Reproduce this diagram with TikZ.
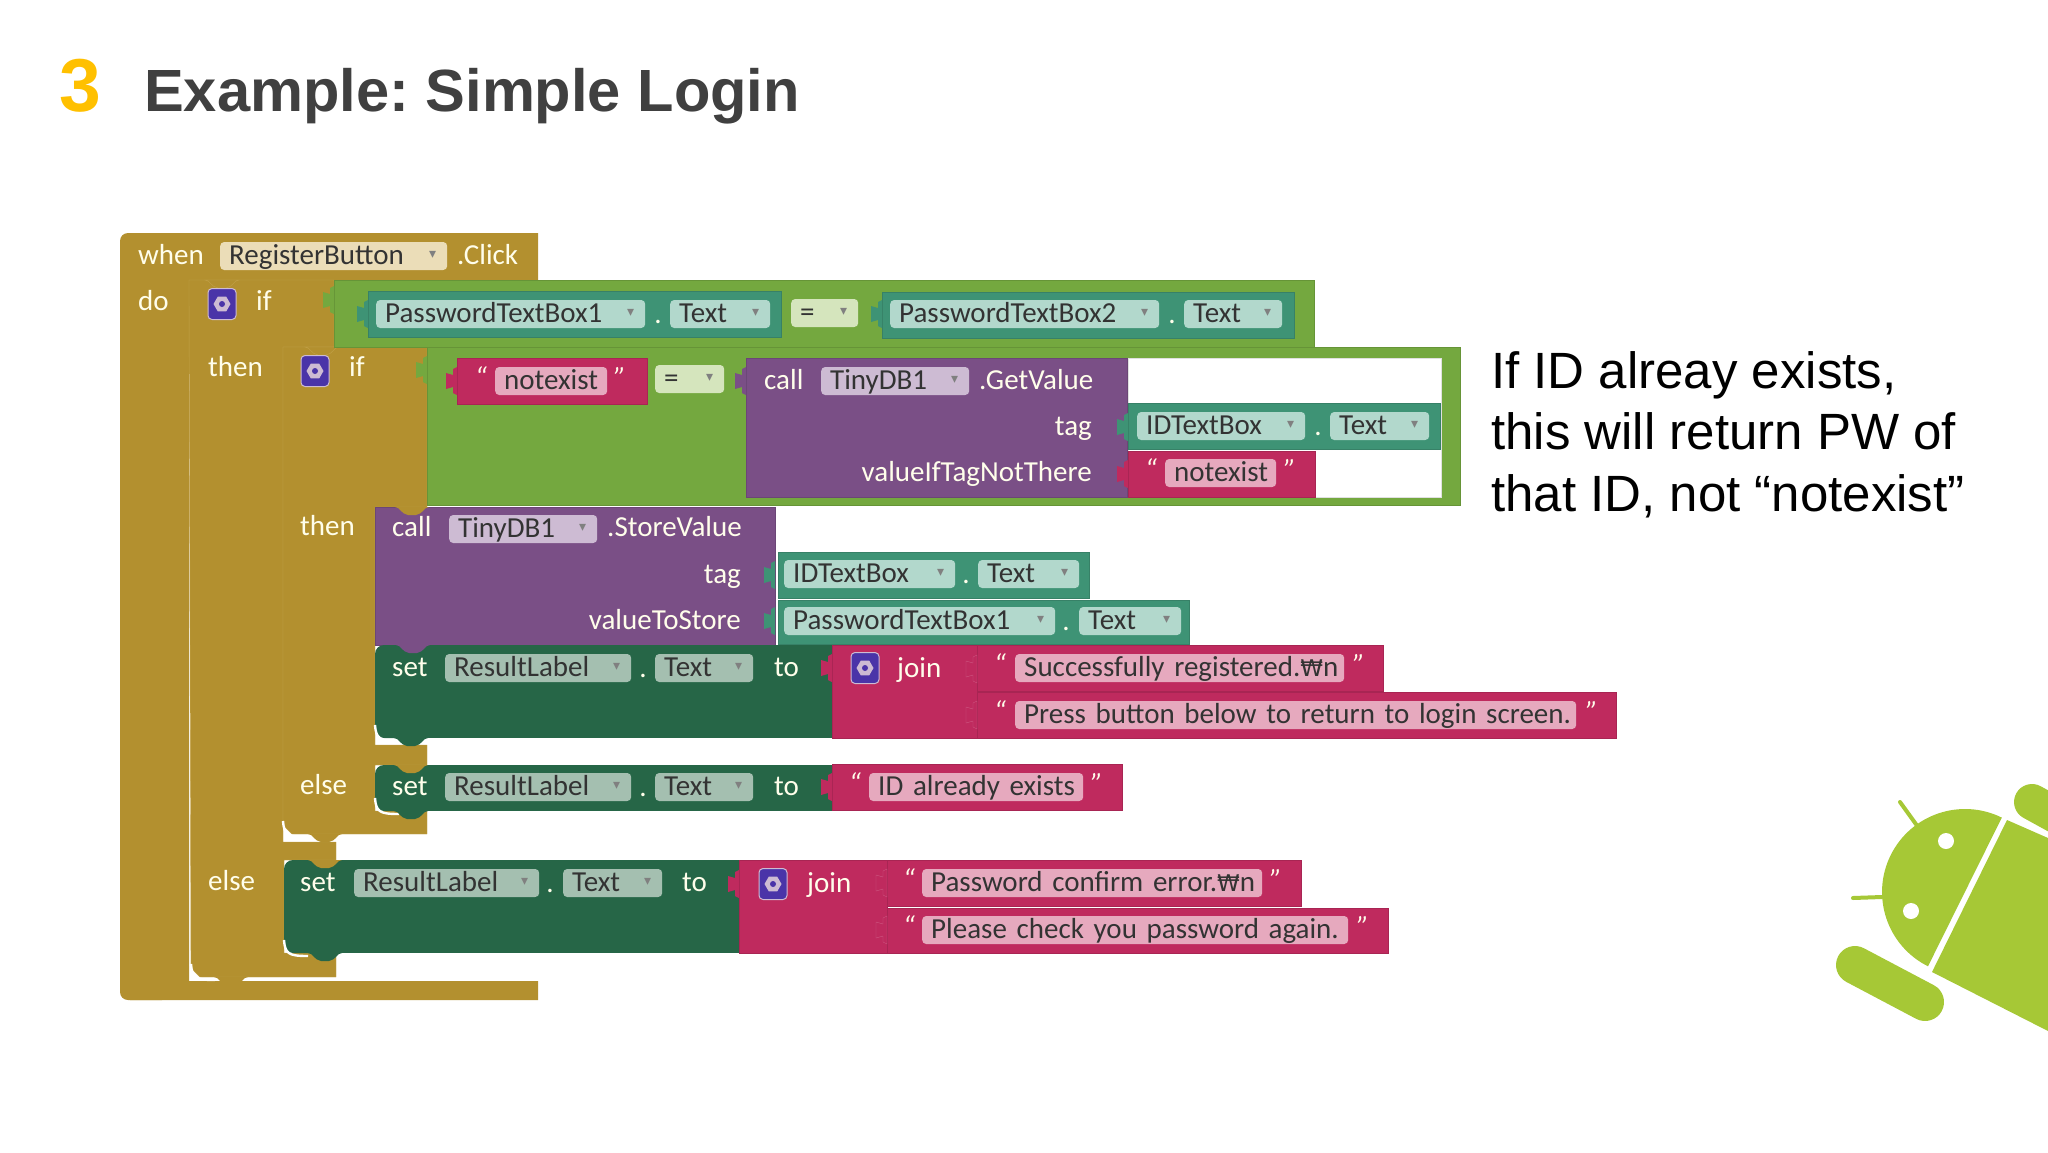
\documentclass[tikz,border=0pt]{standalone}
\usepackage{fontspec}
\setmainfont{Liberation Sans}
\newfontfamily\blockfont{Carlito}
\newfontfamily\symfont{DejaVu Sans}
\usetikzlibrary{shapes.geometric}
\definecolor{goldb}{HTML}{B3902F}
\definecolor{goldl}{HTML}{C2A148}
\definecolor{goldf}{HTML}{EBDDB8}
\definecolor{greenb}{HTML}{74A83F}
\definecolor{greenf}{HTML}{D5E5BD}
\definecolor{tealb}{HTML}{3E9375}
\definecolor{tealf}{HTML}{B2D8CC}
\definecolor{purpb}{HTML}{7A4F86}
\definecolor{purpf}{HTML}{CDBBD3}
\definecolor{crimb}{HTML}{BF2A5E}
\definecolor{crimf}{HTML}{E6A9BE}
\definecolor{dkgrb}{HTML}{266647}
\definecolor{dkgrf}{HTML}{A4BFB0}
\definecolor{gearb}{HTML}{4A34A8}
\definecolor{droid}{HTML}{A6C836}
\newcommand{\dd}{\hfill\raisebox{6pt}{\textcolor{black!50}{\symfont\fontsize{14}{14}\selectfont ▾}}\hspace*{6pt}}
\frenchspacing
\begin{document}
\begin{tikzpicture}[
	x=1pt, y=-1pt,
	lbl/.style  = {font=\blockfont\fontsize{29}{32}\selectfont, text=white!92!yellow, inner sep=0pt, text height=20pt, text depth=3pt},
	lbll/.style = {lbl, anchor=west},
	lblr/.style = {lbl, anchor=east},
	qt/.style   = {lbl, anchor=center, font=\blockfont\itshape\fontsize{29}{32}\selectfont},
	fld/.style 2 args = {fill=#1, text width=\the\dimexpr#2pt+4pt\relax, rounded corners=4pt, inner xsep=5pt, inner ysep=0pt, minimum height=28pt,
		anchor=west, align=left, font=\blockfont\fontsize{29}{32}\selectfont, text=black!80, text height=20pt, text depth=3pt,
		execute at begin node={\hspace*{4pt}}},
	gear/.style = {draw=purpf, fill=gearb, rounded corners=4pt, minimum width=28pt, minimum height=31pt, inner sep=0pt, line width=1pt},
	notch/.pic  = {\path[pic actions] (0,-14) -- (-4,-12) -- (-4,-6) -- (-11,-8) -- (-11,8) -- (-4,6) -- (-4,12) -- (0,14) -- cycle;},
	nub/.pic    = {\path[pic actions] (-17,0) .. controls (-12,0) and (-11,7) .. (-4,8) -- (4,8) .. controls (11,7) and (12,0) .. (17,0) -- cycle;}]

	\useasboundingbox (0,0) rectangle (2048,1152);

	% slide heading and the remark
	\node[anchor=base west, inner sep=0pt, font=\bfseries\fontsize{75}{80}\selectfont, text={rgb,255:red,255;green,192;blue,0}] (num) at (59,111) {3};
	\node[anchor=base west, inner sep=0pt, font=\bfseries\fontsize{59.6}{64}\selectfont, text=black!75] (title) at (144,111) {Example: Simple Login};
	\node[anchor=west, inner sep=0pt, align=left, font=\fontsize{51}{61.4}\selectfont, text=black] (remark) at (1491,434.5)
		{If ID alreay exists,\\this will return PW of\\that ID, not “notexist”};

	% gold event and if blocks
	\fill[goldb, rounded corners=8pt] (120,233) rectangle (170,1000);
	\fill[goldb] (130,233) rectangle (538,280) (130,280) rectangle (189,1000) (130,981) rectangle (538,1000);
	\fill[goldb, draw=goldl] (189,290) -- (189,280) -- (334,280) -- (334,347) -- (283,347) -- (283,842) -- (336,842) -- (336,860) -- (284,860)
		-- (284,953) -- (336,953) -- (336,977) -- (200,977) -- (191,968) -- cycle;
	\fill[goldb, draw=goldl] (283,347) -- (427,347) -- (427,507) -- (375,507) -- (375,745) -- (427,745) -- (427,765) -- (375,765) -- (375,811)
		-- (427,811) -- (427,834) -- (292,834) -- (283,825) -- cycle;
	\pic[fill=goldb, draw=goldl] at (222,280) {nub};
	\pic[fill=goldb, draw=goldl] at (322,347) {nub};

	% flat blocks, back to front
	\foreach \xa/\ya/\xb/\yb/\cc in {334/280/1314/347/greenb, 427/347/1460/505/greenb, 1128/358/1441/497/white,
		746/358/1127/497/purpb, 375/507/775/645/purpb,
		368/291/781/337/tealb, 882/292/1294/338/tealb, 1128/403/1440/449/tealb, 778/552/1089/598/tealb, 778/600/1189/644/tealb,
		457/358/647/404/crimb, 1128/451/1315/497/crimb, 977/645/1383/691/crimb, 977/692/1616/738/crimb, 832/645/977/738/crimb,
		832/764/1122/810/crimb, 739/860/887/953/crimb, 887/860/1301/906/crimb, 887/908/1388/953/crimb}
		\fill[\cc, draw=\cc!88!black, line width=.6pt] (\xa,\ya) rectangle (\xb,\yb);

	% set blocks have round corners on the left
	\foreach \xa/\ya/\xb/\yb in {375/645/832/738, 375/765/832/811, 284/860/739/953} {
		\fill[dkgrb, rounded corners=9pt] (\xa,\ya) rectangle ({\xa+40},\yb);
		\fill[dkgrb] ({\xa+20},\ya) rectangle (\xb,\yb);
	}

	% white slits under the statements
	\foreach \wx/\wy in {375/738, 375/811, 283/834, 284/953, 191/977}
		\draw[white, line width=2.4pt] (\wx,{\wy-13}) .. controls ({\wx+1},{\wy+1}) and ({\wx+5},{\wy+3}) .. ({\wx+24},{\wy+3});

	% tabs between statements
	\foreach \nx/\ny/\cc in {412/507/goldb, 413/645/purpb, 411/738/dkgrb, 411/765/goldb, 411/811/dkgrb, 325/834/goldb, 325/860/goldb, 325/953/dkgrb, 231/977/goldb}
		\pic[fill=\cc] at (\nx,\ny) {nub};

	% sockets of the value blocks
	\foreach \nx/\ny/\cc in {334/300/greenb, 427/370/greenb, 368/314/tealb, 882/314/tealb, 457/381/crimb, 746/381/purpb, 1128/427/tealb, 1128/474/crimb,
		775/575/tealb, 775/621/tealb, 832/668/crimb, 832/787/crimb, 739/884/crimb}
		\pic[fill=\cc] at (\nx,\ny) {notch};
	\foreach \nx/\ny in {977/669, 977/715, 887/883, 887/930}
		\pic[fill=crimb, draw=crimf!35!crimb, line width=.4pt] at (\nx,\ny) {notch};

	% mutator icons
	\foreach \n/\gx/\gy in {a/222/304, b/315/371, c/865/668, d/773/884} {
		\node[gear] (gear\n) at (\gx,\gy) {};
		\node[regular polygon, regular polygon sides=6, fill=purpf, minimum size=17pt, inner sep=0pt] (cog\n) at (\gx,\gy) {};
		\node[circle, fill=gearb, minimum size=6pt, inner sep=0pt] (hub\n) at (\gx,\gy) {};
	}

	% event row
	\node[lbll] (when) at (138,256) {when};
	\node[fld={goldf}{213}] (regbtn) at (220,256) {RegisterButton\dd};
	\node[lbll] (click) at (457,256) {.Click};
	\node[lbll] (do) at (138,302) {do};

	% outer if
	\node[lbll] (if1) at (256,302) {if};
	\node[fld={tealf}{255}] (pw1) at (376,314) {PasswordTextBox1\dd};
	\node[lbl] (dot1) at (658,315) {.};
	\node[fld={tealf}{86}] (txt1) at (670,314) {Text\dd};
	\node[fld={greenf}{53}] (eq1) at (791,313) {=\dd};
	\node[fld={tealf}{255}] (pw2) at (890,314) {PasswordTextBox2\dd};
	\node[lbl] (dot2) at (1172,315) {.};
	\node[fld={tealf}{84}] (txt2) at (1184,314) {Text\dd};
	\node[lbll] (then1) at (208,368) {then};

	% inner if
	\node[lbll] (if2) at (349,368) {if};
	\node[qt] (qa1) at (481,379) {“};
	\node[fld={crimf}{98}] (nx1) at (495,381) {notexist};
	\node[qt] (qa2) at (620,379) {”};
	\node[fld={greenf}{55}] (eq2) at (655,379) {=\dd};
	\node[lbll] (call1) at (764,381) {call};
	\node[fld={purpf}{134}] (db1) at (821,381) {TinyDB1\dd};
	\node[lbll] (getval) at (979,381) {.GetValue};
	\node[lblr] (tag1) at (1092,427) {tag};
	\node[lblr] (vtag) at (1092,473) {valueIfTagNotThere};
	\node[fld={tealf}{154}] (id1) at (1137,426) {IDTextBox\dd};
	\node[lbl] (dot3) at (1318,427) {.};
	\node[fld={tealf}{85}] (txt3) at (1330,426) {Text\dd};
	\node[qt] (qb1) at (1151,471) {“};
	\node[fld={crimf}{97}] (nx2) at (1165,473) {notexist};
	\node[qt] (qb2) at (1290,471) {”};
	\node[lbll] (then2) at (300,527) {then};

	% store call
	\node[lbll] (call2) at (392,528) {call};
	\node[fld={purpf}{134}] (db2) at (449,529) {TinyDB1\dd};
	\node[lbll] (storeval) at (607,528) {.StoreValue};
	\node[lblr] (tag2) at (741,575) {tag};
	\node[lblr] (vstore) at (741,621) {valueToStore};
	\node[fld={tealf}{157}] (id2) at (784,574) {IDTextBox\dd};
	\node[lbl] (dot4) at (966,575) {.};
	\node[fld={tealf}{87}] (txt4) at (978,574) {Text\dd};
	\node[fld={tealf}{257}] (pw3) at (784,621) {PasswordTextBox1\dd};
	\node[lbl] (dot5) at (1066,622) {.};
	\node[fld={tealf}{88}] (txt5) at (1079,621) {Text\dd};

	% first set
	\node[lbll] (set1) at (392,668) {set};
	\node[fld={dkgrf}{172}] (res1) at (445,668) {ResultLabel\dd};
	\node[lbl] (dot6) at (643,669) {.};
	\node[fld={dkgrf}{84}] (txt6) at (655,668) {Text\dd};
	\node[lbll] (to1) at (774,668) {to};
	\node[lbll] (join1) at (897,669) {join};
	\node[qt] (qc1) at (1000,666) {“};
	\node[fld={crimf}{315}] (msg1) at (1015,668) {Successfully registered.{\symfont\fontsize{23}{30}\selectfont ₩}n};
	\node[qt] (qc2) at (1359,666) {”};
	\node[qt] (qd1) at (1000,713) {“};
	\node[fld={crimf}{547}] (msg2) at (1015,715) {Press button below to return to login screen.};
	\node[qt] (qd2) at (1592,713) {”};

	% second set
	\node[lbll] (else2) at (300,786) {else};
	\node[lbll] (set2) at (392,787) {set};
	\node[fld={dkgrf}{172}] (res2) at (445,787) {ResultLabel\dd};
	\node[lbl] (dot7) at (643,788) {.};
	\node[fld={dkgrf}{84}] (txt7) at (655,787) {Text\dd};
	\node[lbll] (to2) at (774,787) {to};
	\node[qt] (qe1) at (855,785) {“};
	\node[fld={crimf}{200}] (msg3) at (869,787) {ID already exists};
	\node[qt] (qe2) at (1097,785) {”};

	% third set
	\node[lbll] (else1) at (208,882) {else};
	\node[lbll] (set3) at (300,883) {set};
	\node[fld={dkgrf}{171}] (res3) at (354,883) {ResultLabel\dd};
	\node[lbl] (dot8) at (550,884) {.};
	\node[fld={dkgrf}{85}] (txt8) at (563,883) {Text\dd};
	\node[lbll] (to3) at (682,883) {to};
	\node[lbll] (join2) at (807,884) {join};
	\node[qt] (qf1) at (909,881) {“};
	\node[fld={crimf}{326}] (msg4) at (922,883) {Password confirm error.{\symfont\fontsize{23}{30}\selectfont ₩}n};
	\node[qt] (qf2) at (1276,881) {”};
	\node[qt] (qg1) at (909,928) {“};
	\node[fld={crimf}{412}] (msg5) at (922,930) {Please check you password again.};
	\node[qt] (qg2) at (1363,928) {”};

	% droid in the corner
	\fill[droid] (2001.8,817.6) arc[start angle=-63.7, end angle=-243.5, radius=83] -- cycle;
	\fill[droid] (2007,820) -- (2048,838) -- (2048,1031) -- (1932,972) -- cycle;
	\draw[droid, line width=38pt, line cap=round] (1855,965) -- (1925,1002);
	\draw[droid, line width=36pt, line cap=round] (2032,802) -- (2072,824);
	\draw[droid, line width=4pt, line cap=round] (1900,802) -- (1918,827);
	\draw[droid, line width=4pt, line cap=round] (1853,898) -- (1882,897);
	\fill[white] (1946,841) circle[radius=8] (1911,911) circle[radius=8];
\end{tikzpicture}
\end{document}
